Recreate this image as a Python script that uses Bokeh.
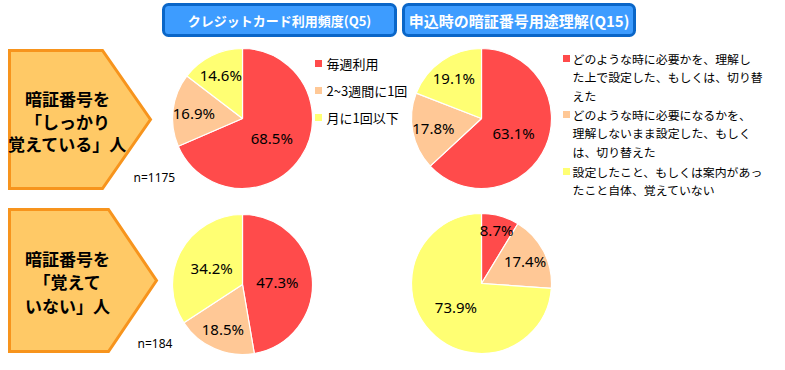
import math
from bokeh.plotting import figure
from bokeh.models import Range1d
from bokeh.core.properties import value
from bokeh.embed import file_html
from bokeh.resources import INLINE

# ---------------- data ----------------
panel_titles = ["クレジットカード利用頻度(Q5)", "申込時の暗証番号用途理解(Q15)"]
group_labels = [["暗証番号を", "「しっかり", "覚えている」人"],
                ["暗証番号を", "「覚えて", "いない」人"]]
sample_sizes = [1175, 184]

q5_categories = ["毎週利用", "2~3週間に1回", "月に1回以下"]
q15_categories = [
    ["どのような時に必要かを、理解し", "た上で設定した、もしくは、切り替", "えた"],
    ["どのような時に必要になるかを、", "理解しないまま設定した、もしく", "は、切り替えた"],
    ["設定したこと、もしくは案内があっ", "たこと自体、覚えていない"],
]
q5_remember = [68.5, 16.9, 14.6]
q15_remember = [63.1, 17.8, 19.1]
q5_forgot = [47.3, 18.5, 34.2]
q15_forgot = [8.7, 17.4, 73.9]

slice_colors = ["#FF4B4B", "#FFC896", "#FFFF73"]

# ---------------- layout ----------------
W, H = 769, 354


def X(px):
    return px


def Y(py):
    # top row lifted by 4px, bottom row by 7px so everything fits the frame
    return H - (py - (7 if py > 205 else 4))


p = figure(width=W, height=H, output_backend="svg", toolbar_location=None,
           x_axis_type=None, y_axis_type=None, min_border=0,
           x_range=Range1d(0, W), y_range=Range1d(0, H))
p.outline_line_color = None
p.grid.visible = False
p.background_fill_color = "white"
p.border_fill_color = "white"

JP = value("Noto Sans CJK JP")
LAT = value("Noto Sans")

# title boxes
title_boxes = [(163, 395), (403, 634)]
title_sizes = ["13px", "15px"]
for (l, r), t, fs in zip(title_boxes, panel_titles, title_sizes):
    p.quad(left=X(l), right=X(r), top=Y(8), bottom=Y(39), border_radius=5,
           fill_color="#3D9CFF", line_color="#0A66C8", line_width=3)
    p.text(x=[X((l + r) / 2)], y=[Y(23.5)], text=[t], text_font=JP,
           text_font_style="bold", text_font_size=fs, text_color="white",
           text_align="center", text_baseline="middle")

# pentagons
pentagons = [
    dict(top=54, bottom=192, right=102, tip=150, ty=[102, 125, 147]),
    dict(top=216, bottom=358, right=108, tip=156, ty=[265, 288, 312]),
]
for pg, lines in zip(pentagons, group_labels):
    mid = (pg["top"] + pg["bottom"]) / 2
    xs = [X(9), X(pg["right"]), X(pg["tip"]), X(pg["right"]), X(9)]
    ys = [Y(pg["top"]), Y(pg["top"]), Y(mid), Y(pg["bottom"]), Y(pg["bottom"])]
    p.patch(xs, ys, fill_color="#FFC966", line_color="#F7941D", line_width=3,
            line_join="miter")
    p.text(x=[X(67)] * len(lines), y=[Y(v) for v in pg["ty"]], text=lines,
           text_font=JP, text_font_style="bold", text_font_size="17px",
           text_color="black", text_align="center", text_baseline="middle")

# pies
R = 70
pies = [
    (q5_remember, 242, 122),
    (q15_remember, 481, 122),
    (q5_forgot, 242, 291),
    (q15_forgot, 481, 290),
]
for vals, cx, cy in pies:
    total = sum(vals)
    cum = 0.0
    lx, ly, lt = [], [], []
    for v, c in zip(vals, slice_colors):
        a0 = cum / total
        a1 = (cum + v) / total
        p.wedge(x=X(cx), y=Y(cy), radius=R, radius_units="screen",
                start_angle=math.pi / 2 - 2 * math.pi * a0,
                end_angle=math.pi / 2 - 2 * math.pi * a1,
                direction="clock", fill_color=c, line_color="white",
                line_width=1.2)
        share = v / total
        f = 0.5 if share >= 0.3 else (0.8 if share < 0.1 else 0.7)
        th = 2 * math.pi * (a0 + a1) / 2
        lx.append(X(cx) + R * f * math.sin(th))
        ly.append(Y(cy) + R * f * math.cos(th))
        lt.append(f"{v:.1f}%")
        cum += v
    p.text(x=lx, y=ly, text=lt, text_font=LAT, text_font_size="15px",
           text_color="black", text_align="center", text_baseline="middle")

# sample sizes
for n, (nx, ny) in zip(sample_sizes, [(133, 181), (137, 350)]):
    p.text(x=[X(nx)], y=[Y(ny)], text=[f"n={n}"], text_font=LAT,
           text_font_size="12px", text_color="black", text_align="left",
           text_baseline="middle")

# legend Q5
leg1_rows = [67, 94, 121]
for cat, c, ry in zip(q5_categories, slice_colors, leg1_rows):
    p.rect(x=X(318), y=Y(ry), width=7, height=7, width_units="screen",
           height_units="screen", fill_color=c, line_color=None)
    p.text(x=[X(326)], y=[Y(ry)], text=[cat], text_font=JP,
           text_font_size="13px", text_color="black", text_align="left",
           text_baseline="middle")

# legend Q15
leg2_starts = [62, 118, 175]
LH = 18.3
for lines, c, ry in zip(q15_categories, slice_colors, leg2_starts):
    p.rect(x=X(566), y=Y(ry), width=7, height=7, width_units="screen",
           height_units="screen", fill_color=c, line_color=None)
    p.text(x=[X(572)] * len(lines), y=[Y(ry + i * LH) for i in range(len(lines))],
           text=lines, text_font=JP, text_font_size="11.9px", text_color="black",
           text_align="left", text_baseline="middle")

open("out.html", "w").write(file_html(p, INLINE))
